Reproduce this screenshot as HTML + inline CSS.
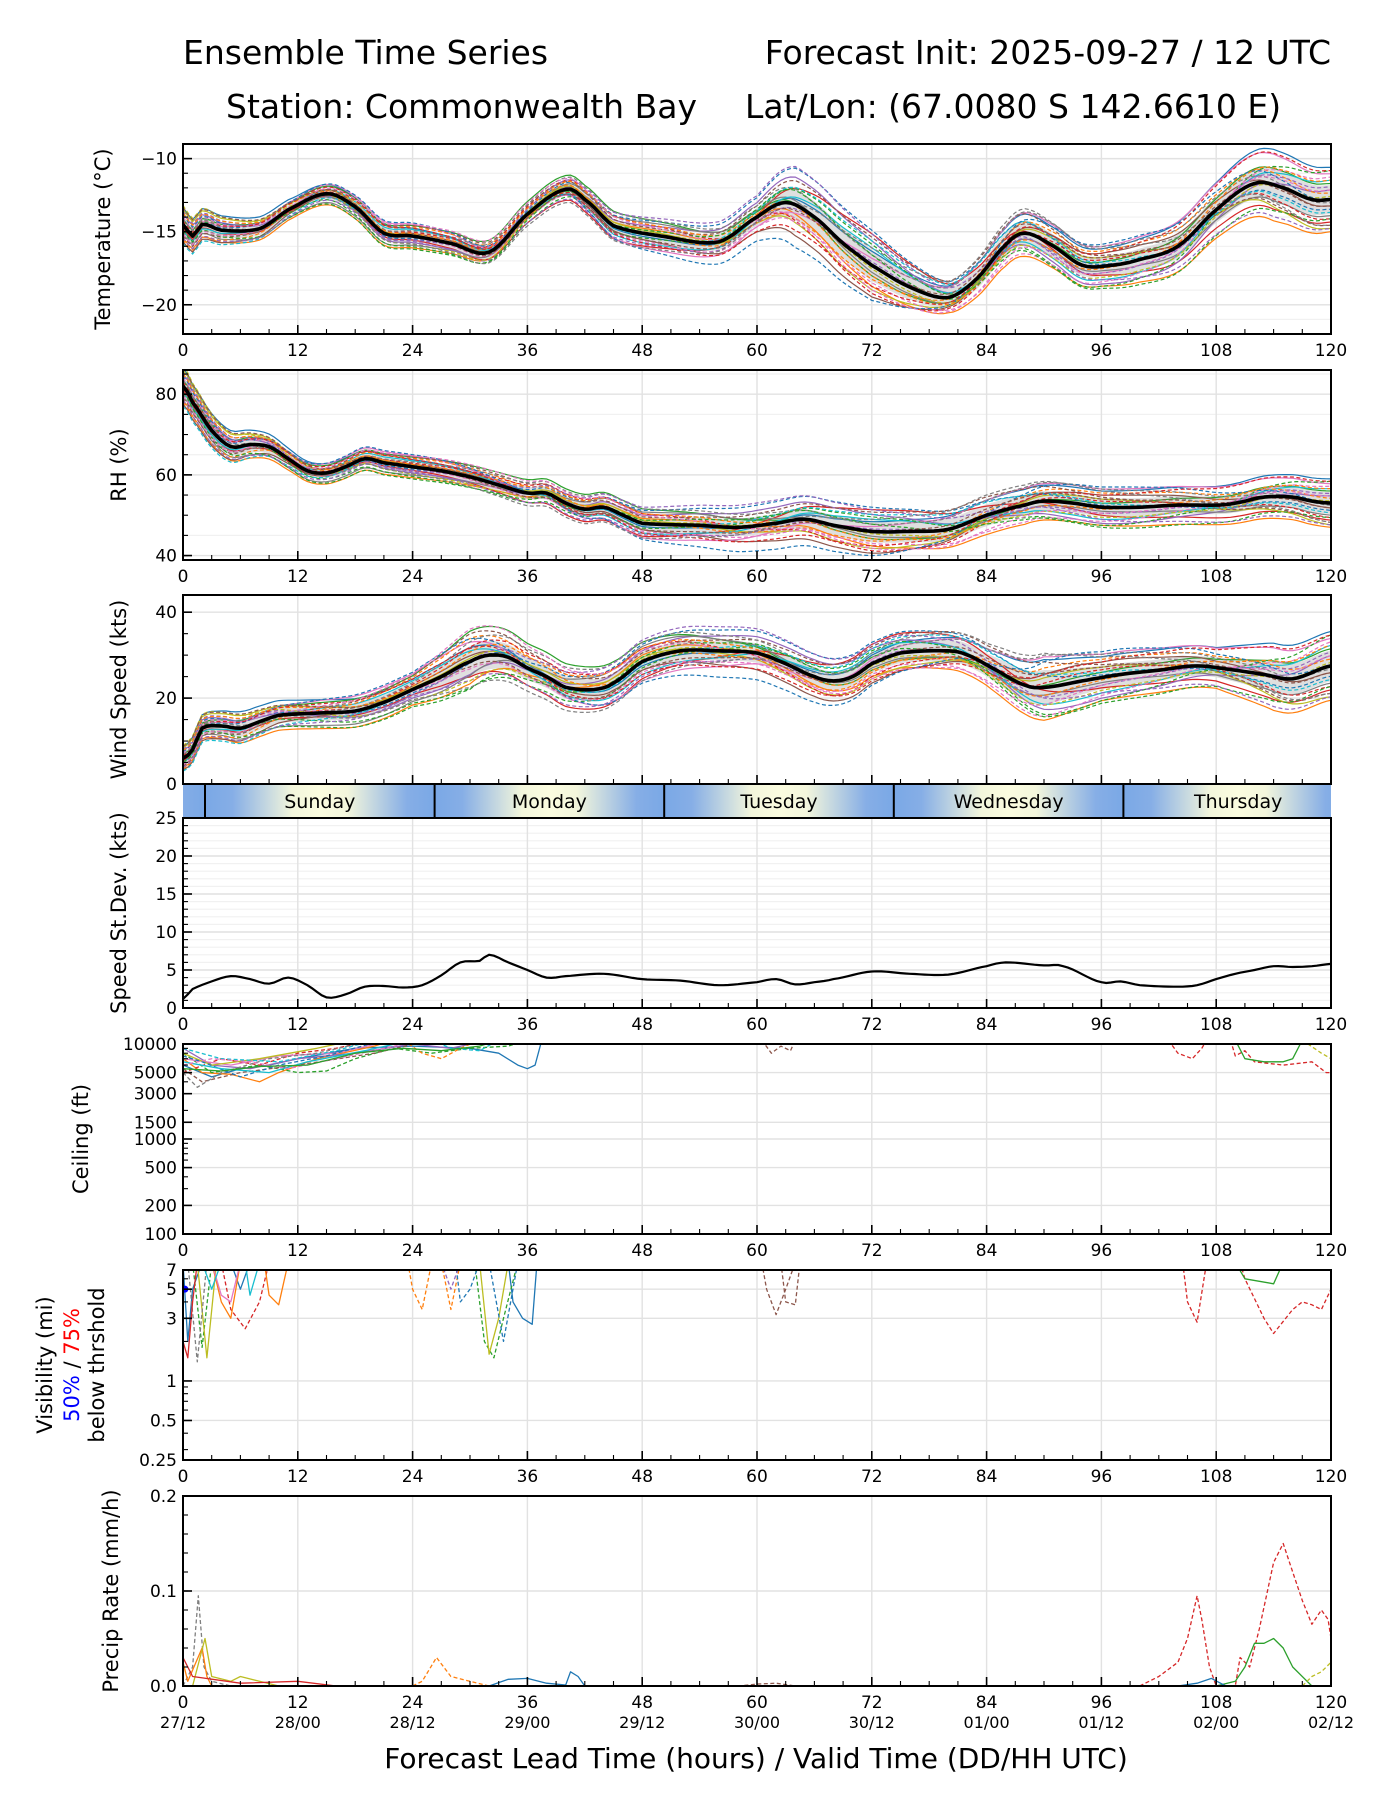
<!DOCTYPE html>
<html><head><meta charset="utf-8"><style>
html,body{margin:0;padding:0;background:#fff;}
svg{display:block;font-family:"DejaVu Sans","Liberation Sans",sans-serif;}
</style></head><body>
<svg id="fig" width="1400" height="1800" viewBox="0 0 1400 1800" xmlns="http://www.w3.org/2000/svg">
<defs>
<linearGradient id="dayg" x1="0" x2="1" y1="0" y2="0">
<stop offset="0" stop-color="#7aa8e6"/><stop offset="0.12" stop-color="#86aee6"/><stop offset="0.38" stop-color="#f3f6dc"/><stop offset="0.5" stop-color="#fbfcdf"/><stop offset="0.62" stop-color="#f3f6dc"/><stop offset="0.88" stop-color="#86aee6"/><stop offset="1" stop-color="#7aa8e6"/>
</linearGradient>
</defs>
<text x="183" y="64" font-size="33">Ensemble Time Series</text>
<text x="1331" y="64" font-size="33" text-anchor="end">Forecast Init: 2025-09-27 / 12 UTC</text>
<text x="226" y="118" font-size="33">Station: Commonwealth Bay</text>
<text x="745" y="118" font-size="33">Lat/Lon: (67.0080 S 142.6610 E)</text>
<g id="root"></g>
</svg>
<script>
// ---------- DATA ----------
const tempHours=[0,1,2,4,8,11,15,18,21,24,28,32,36,40,42,45,50,56,60,63,66,69,72,76,80,83,86,88,91,94,97,100,104,108,112,115,118,120];
const tempMean=[-14.5,-15.3,-14.5,-14.9,-14.8,-13.5,-12.4,-13.3,-15.1,-15.3,-15.8,-16.4,-13.8,-12.1,-12.8,-14.6,-15.3,-15.7,-14.0,-13.0,-14.0,-15.8,-17.3,-18.8,-19.5,-18.2,-15.9,-15.1,-16.0,-17.3,-17.3,-16.9,-16.0,-13.5,-11.7,-12.0,-12.8,-12.8];
const tempSpreadHours=[0,12,24,36,48,60,64,72,80,88,96,108,114,120];
const tempSpread=[1.3,0.8,0.9,0.9,1.1,1.3,2.4,2.4,1.4,1.9,1.5,2.0,2.5,2.2];

const rhHours=[0,1,3,5,7,9,11,13,15,17,19,21,24,27,30,33,36,38,40,42,44,46,48,54,58,62,65,68,72,76,80,84,88,90,93,96,100,104,108,110,113,116,118,120];
const rhMean=[82,78,71,67,67.5,67,64,61,60.5,62,64,63,62,61,59.5,57.5,55.5,55.5,53,51.5,52,50,48,47.5,47,48,49,47.5,46,46,46.5,50,52.5,53.5,53,52,52,52.5,52.5,53,54.5,54.5,53.5,53];
const rhSpreadHours=[0,6,12,24,36,48,60,72,84,96,108,120];
const rhSpread=[5,4.5,3,3,3.5,4,5,6,6,5,5,6];

const windHours=[0,1,2,4,6,8,10,14,18,21,24,27,30,32,34,36,38,40,43,45,48,52,56,60,63,66,68,70,72,75,80,82,85,88,90,94,98,102,106,110,113,116,120];
const windMean=[6,8,13,13.5,13,14.5,16,16.5,17,19,22,25,28.5,30,29.5,27,25,22.5,22,23.5,28.5,31,31,30.5,28,25,24,25,28,30.5,31,30,26.5,23,22.5,24,25.5,26.5,27.5,26.5,25.5,24.5,27.5];
const windSpreadHours=[0,6,12,24,30,36,48,60,72,84,90,96,108,114,120];
const windSpread=[3,4.5,4,4,8,6,5,5,5,6,9,6,5,8,8];

const sdHours=[0,1,3,5,7,9,11,13,15,17,19,21,23,25,27,29,31,32,34,36,38,40,44,48,52,56,60,62,64,66,68,72,76,80,84,86,90,92,96,98,100,104,106,108,110,112,114,116,118,120];
const sdValues=[1.2,2.5,3.5,4.2,3.8,3.2,4,3,1.4,1.8,2.8,2.9,2.7,3.0,4.3,6,6.2,7,6,5,4,4.2,4.5,3.8,3.6,3.0,3.4,3.8,3.1,3.4,3.8,4.8,4.5,4.4,5.5,6,5.6,5.5,3.4,3.5,3,2.8,3,3.8,4.5,5,5.5,5.4,5.5,5.8];

// ensemble member offset coefficients at hours 0,24,48,72,96,120
const memberCoef=[
[0.9,0.6,-0.2,0.4,0.8,1.0],[-0.7,-0.9,0.3,-0.6,-0.9,-1.0],[0.3,0.8,0.9,-0.3,0.2,0.5],[-0.2,-0.3,-0.8,0.9,-0.4,-0.7],
[0.6,-0.5,0.5,0.7,-0.8,0.3],[-0.9,0.2,-0.4,-0.9,0.6,-0.2],[0.1,0.9,-0.9,0.2,0.9,0.8],[-0.5,-0.7,0.7,-0.2,-0.2,-0.5],
[0.8,0.1,0.2,-0.7,0.4,-0.9],[-0.3,0.5,-0.6,0.5,-0.6,0.6],[0.5,-0.2,0.8,1.0,0.1,-0.3],[-0.8,0.7,0.0,-0.4,0.7,0.2],
[0.2,-0.8,-0.3,0.6,-0.9,0.9],[-0.1,0.3,0.6,-0.8,0.3,-0.6],[0.7,-0.4,-0.7,0.1,-0.3,0.4],[-0.6,0.8,0.4,0.8,0.5,-0.8],
[0.4,-0.1,-0.5,-0.5,-0.7,0.7],[-0.4,0.4,0.9,0.3,0.9,-0.1],[1.0,-0.6,0.1,-0.1,-0.5,0.1],[-1.0,0.0,-0.1,0.7,0.2,-0.4],
[0.0,1.0,-1.0,-1.0,1.0,0.0],[0.6,0.2,0.6,-0.3,-0.1,0.6],[-0.3,-1.0,0.2,0.3,-1.0,-0.6],[0.2,0.6,-0.6,-0.6,0.6,0.9],
[-0.7,-0.3,1.0,0.9,-0.6,-0.9],[0.9,0.0,-0.4,0.0,0.4,-0.2],[-0.5,0.9,0.5,-0.7,-0.3,0.3],[0.3,-0.6,-0.9,0.5,0.8,-0.8]
];
const memberColors=["#1f77b4","#ff7f0e","#2ca02c","#d62728","#9467bd","#8c564b","#e377c2","#7f7f7f","#bcbd22","#17becf"];

const ceilMembers=[
{c:0,d:0,p:[[0,6000],[3,4500],[6,5500],[9,6000],[12,7000],[18,9000],[24,9500],[30,9000],[33,8000],[35,6000],[36,5500],[36.8,6000],[37.5,11000]]},
{c:1,d:0,p:[[0,7000],[2,5000],[5,4800],[8,4000],[10,5000],[14,7000],[20,9500],[22,11000]]},
{c:2,d:1,p:[[0,8000],[3,5000],[8,6000],[12,5000],[15,5200],[18,7000],[22,9000],[26,8000],[30,9000],[34,9500],[36,11000]]},
{c:3,d:1,p:[[0,5000],[4,7000],[8,6000],[12,8000],[16,9000],[20,11000]]},
{c:3,d:1,p:[[103,11000],[104,8000],[105.5,7000],[106.5,9000],[107,11000]]},
{c:3,d:1,p:[[109.5,11000],[110,7500],[111,8500],[112,6500],[115,6000],[118,6500],[119.5,5000],[120,5000]]},
{c:4,d:0,p:[[0,9000],[3,6000],[7,5500],[12,7000],[18,8000],[24,10000],[28,9000],[32,11000]]},
{c:5,d:1,p:[[0,5500],[2,4000],[6,5000],[12,6000],[20,8000],[26,11000]]},
{c:5,d:1,p:[[60.5,11000],[61.5,8000],[62.5,9500],[63.5,8500],[64,11000]]},
{c:6,d:0,p:[[0,7000],[5,6000],[10,7500],[16,8000],[22,11000]]},
{c:7,d:1,p:[[0,5000],[1.5,3500],[4,5000],[9,7000],[14,8000],[20,11000]]},
{c:8,d:0,p:[[0,8000],[3,6000],[8,7000],[14,9000],[18,11000]]},
{c:9,d:1,p:[[0,9000],[4,7000],[10,6500],[16,8500],[20,11000]]},
{c:9,d:1,p:[[26,11000],[28,9000],[31,8500],[33,11000]]},
{c:1,d:1,p:[[23,11000],[25,8000],[27,7000],[29,9000],[31,11000]]},
{c:2,d:0,p:[[110,11000],[111,7000],[113,6500],[115,6500],[116,7000],[117,11000]]},
{c:8,d:1,p:[[117,11000],[119,8000],[120,7000]]},
{c:0,d:1,p:[[0,7500],[2,6500],[6,4500],[10,6000],[15,7500],[21,11000]]},
{c:9,d:0,p:[[0,6500],[4,5500],[9,5000],[13,6500],[19,8500],[24,11000]]},
{c:6,d:1,p:[[0,6000],[3,7000],[7,6500],[11,5500],[16,7000],[21,9000],[25,11000]]},
{c:2,d:0,p:[[0,5500],[4,5200],[8,5800],[13,6000],[18,8000],[23,9000],[27,8500],[31,9500],[33,11000]]}
];
const visMembers=[
{c:0,d:0,p:[[0,8],[0.5,2],[1,5],[2,8]]},{c:0,d:0,p:[[5,8],[6,5],[7,8]]},{c:0,d:0,p:[[34,8],[34.5,4],[35.5,3],[36.5,2.7],[37,8]]},
{c:2,d:1,p:[[1,8],[2,1.8],[3,8]]},{c:2,d:1,p:[[30.5,8],[31.5,2],[32.5,1.5],[33.5,3],[35,8]]},
{c:8,d:0,p:[[1.5,8],[2.5,1.5],[3.5,8]]},{c:8,d:0,p:[[31,8],[32,1.6],[33,3],[34,8]]},
{c:7,d:1,p:[[0.5,8],[1.5,1.4],[2.5,8]]},
{c:3,d:1,p:[[4,8],[5,3.5],[6.5,2.5],[8,4],[9,8]]},{c:3,d:1,p:[[104.5,8],[105,4],[106,2.8],[107,8]]},
{c:3,d:1,p:[[110.5,8],[111,6],[113,3],[114,2.3],[116,3.5],[117,4],[118,3.8],[119,3.5],[120,5]]},
{c:3,d:0,p:[[0,2],[0.5,1.5],[1,4],[1.5,8]]},
{c:1,d:0,p:[[8.5,8],[9,4.5],[10,3.8],[11,8]]},{c:1,d:0,p:[[3,8],[4,4],[5,3],[6,8]]},
{c:1,d:1,p:[[23.5,8],[24,5],[25,3.5],[26,8]]},{c:1,d:1,p:[[27,8],[28,3.5],[29,8]]},
{c:0,d:1,p:[[28.5,8],[29,4],[30,5],[31,8]]},{c:0,d:1,p:[[32,8],[33.5,2],[35,8]]},
{c:4,d:1,p:[[27,8],[28,5],[29,8]]},
{c:5,d:1,p:[[60.5,8],[61,5],[62,3.2],[63,5],[64,8]]},{c:5,d:1,p:[[62.5,8],[63,4],[64,3.8],[64.5,8]]},
{c:2,d:0,p:[[110,8],[111,6],[114,5.5],[115,8]]},
{c:6,d:0,p:[[3,8],[4,4.5],[5,4],[6,8]]},{c:9,d:0,p:[[2,8],[3,5],[4,8]]},{c:9,d:0,p:[[6.5,8],[7,4.5],[8,8]]}
];
const precipMembers=[
{c:7,d:1,p:[[0,0],[1,0.02],[1.6,0.095],[2.2,0.02],[3,0.005],[5,0]]},
{c:1,d:1,p:[[24,0],[25,0.005],[26.5,0.03],[28,0.01],[30,0.005],[32,0]]},
{c:0,d:0,p:[[32,0],[34,0.007],[36,0.008],[38,0.003],[40,0.001],[40.5,0.015],[41.3,0.01],[42,0]]},
{c:3,d:1,p:[[100,0],[102,0.01],[104,0.025],[105,0.05],[106,0.095],[106.5,0.07],[107.3,0.02],[108,0],[110,0],[110.5,0.03],[111.5,0.02],[112.5,0.06],[114,0.13],[115,0.15],[116,0.12],[117,0.09],[118,0.065],[119,0.08],[119.7,0.07],[120,0.05]]},
{c:2,d:0,p:[[108,0],[110,0.005],[111,0.02],[112,0.045],[113,0.045],[114,0.05],[115,0.04],[116,0.02],[117.5,0.005],[118,0]]},
{c:8,d:1,p:[[117,0],[118,0.01],[119,0.015],[120,0.025]]},
{c:1,d:0,p:[[0,0.025],[0.5,0.005],[2,0.04],[2.5,0.01],[3,0]]},
{c:8,d:0,p:[[1,0],[2.3,0.05],[3,0.01],[5,0.005],[6,0.01],[8,0.005],[10,0]]},
{c:3,d:0,p:[[0,0.03],[1,0.01],[6,0.003],[12,0.005],[16,0]]},
{c:5,d:1,p:[[58,0],[60,0.002],[62,0.003],[64,0]]},
{c:0,d:0,p:[[104,0],[106,0.003],[107.5,0.008],[109,0]]}
];
const xTicks=[0,12,24,36,48,60,72,84,96,108,120];
const dateLabels=["27/12","28/00","28/12","29/00","29/12","30/00","30/12","01/00","01/12","02/00","02/12"];
const dayNames=["Sunday","Monday","Tuesday","Wednesday","Thursday"];

// ---------- LAYOUT ----------
const NS="http://www.w3.org/2000/svg";
const root=document.getElementById('root');
const X0=183,X1=1331;
const xs=h=>X0+h*(X1-X0)/120;
function el(tag,attrs,parent,txt){const e=document.createElementNS(NS,tag);for(const k in attrs)e.setAttribute(k,attrs[k]);if(txt!==undefined)e.textContent=txt;(parent||root).appendChild(e);return e;}
function interp(hs,vs,h){if(h<=hs[0])return vs[0];for(let i=1;i<hs.length;i++){if(h<=hs[i]){const t=(h-hs[i-1])/(hs[i]-hs[i-1]);return vs[i-1]+t*(vs[i]-vs[i-1]);}}return vs[vs.length-1];}
function smooth(hs,vs,h){
 let i=1;while(i<hs.length-1&&h>hs[i])i++;
 const p0=vs[Math.max(i-2,0)],p1=vs[i-1],p2=vs[i],p3=vs[Math.min(i+1,vs.length-1)];
 const t=Math.max(0,Math.min(1,(h-hs[i-1])/(hs[i]-hs[i-1])));
 const t2=t*t,t3=t2*t;
 return 0.5*((2*p1)+(-p0+p2)*t+(2*p0-5*p1+4*p2-p3)*t2+(-p0+3*p1-3*p2+p3)*t3);}
const coefHours=[0,24,48,72,96,120];

function panel(cfg){
 const {name,top,bot,ymin,ymax,log}=cfg;
 const ys=v=>{ if(log){const a=Math.log10(ymin),b=Math.log10(ymax);return bot-(Math.log10(v)-a)/(b-a)*(bot-top);} return bot-(v-ymin)/(ymax-ymin)*(bot-top);};
 const g=el('g',{});
 
 
 const clipId='clip-'+name;
 const cp=el('clipPath',{id:clipId},g);el('rect',{x:X0,y:top,width:X1-X0,height:bot-top},cp);
 (cfg.minorGrid||[]).forEach(v=>el('line',{x1:X0,x2:X1,y1:ys(v),y2:ys(v),stroke:'#f1f1f1','stroke-width':1.2},g));
 xTicks.forEach(h=>{const l=el('line',{x1:xs(h),x2:xs(h),y1:top,y2:bot,stroke:'#e2e2e2','stroke-width':1.4},g);});
 cfg.yTicks.forEach(v=>el('line',{x1:X0,x2:X1,y1:ys(v),y2:ys(v),stroke:'#e2e2e2','stroke-width':1.4},g));
 const plot=el('g',{'clip-path':'url(#'+clipId+')'},g);
 
 
 cfg.draw&&cfg.draw(plot,ys);
 el('rect',{x:X0,y:top,width:X1-X0,height:bot-top,fill:'none',stroke:'#000','stroke-width':2},g);
 for(let h=0;h<=120;h+=3){const major=h%12===0;el('line',{x1:xs(h),x2:xs(h),y1:bot,y2:bot-(major?9:5),stroke:'#000','stroke-width':major?1.6:1.1},g);}
 if(!cfg.noXLabels) xTicks.forEach(h=>{const t=el('text',{x:xs(h),y:bot+22,'font-size':17,'text-anchor':'middle'},g,String(h));});
 (cfg.minorTicks||[]).forEach(v=>el('line',{x1:X0,x2:X0+5,y1:ys(v),y2:ys(v),stroke:'#000','stroke-width':1.1},g));
 cfg.yTicks.forEach((v,i)=>{el('line',{x1:X0,x2:X0+9,y1:ys(v),y2:ys(v),stroke:'#000','stroke-width':1.6},g);
  const t=el('text',{x:X0-6,y:ys(v)+6,'font-size':17,'text-anchor':'end'},g,cfg.yLabels[i]);});
 if(cfg.title){const cy=(top+bot)/2;const t=el('text',{x:cfg.tx,y:cy,'font-size':21,'text-anchor':'middle',transform:'rotate(-90 '+cfg.tx+' '+cy+')'},g,cfg.title);
  }
 return {ys,g};
}
function pathFrom(pts){return pts.map((p,i)=>(i?'L':'M')+p[0].toFixed(1)+','+p[1].toFixed(1)).join('');}
function ensemble(plot,ys,hours,mean,sh,sp,lowClip){
 const meanAt=h=>smooth(hours,mean,h);
 const up=[],dn=[];
 for(let h=0;h<=120;h+=0.5){const m=meanAt(h),s=interp(sh,sp,h)*0.45;up.push([xs(h),ys(m+s)]);dn.push([xs(h),ys(Math.max(lowClip,m-s))]);}
 const band=el('path',{d:pathFrom(up.concat(dn.reverse()))+'Z',fill:'#d9d9d9',opacity:0.85},plot);
 
 memberCoef.forEach((cf,i)=>{const pts=[];
  for(let h=0;h<=120;h+=0.5){const k=smooth(coefHours,cf,h);pts.push([xs(h),ys(Math.max(lowClip,meanAt(h)+k*interp(sh,sp,h)))]);}
  const p=el('path',{d:pathFrom(pts),fill:'none',stroke:memberColors[i%10],'stroke-width':1.2},plot);
  if(i>=10)p.setAttribute('stroke-dasharray','4,2.5');
  });
 const pts=[];for(let h=0;h<=120;h+=0.5)pts.push([xs(h),ys(meanAt(h))]);
 const m=el('path',{d:pathFrom(pts),fill:'none',stroke:'#000','stroke-width':3.6,'stroke-linejoin':'round'},plot);
 
}
function members(plot,ys,list){list.forEach(mb=>{const pts=mb.p.map(q=>[xs(q[0]),ys(q[1])]);
 const p=el('path',{d:pathFrom(pts),fill:'none',stroke:memberColors[mb.c],'stroke-width':1.3,'stroke-linejoin':'round'},plot);
 if(mb.d)p.setAttribute('stroke-dasharray','4,2.5');
 });}

const rng=(a,b,s)=>{const r=[];for(let v=a;v<=b+1e-9;v+=s)r.push(+v.toFixed(4));return r;};

panel({name:'temperature',top:144,bot:334,ymin:-22,ymax:-9,yTicks:[-20,-15,-10],yLabels:['\u221220','\u221215','\u221210'],
 minorTicks:rng(-22,-9,1),minorGrid:rng(-22,-9,1),title:'Temperature (\u00b0C)',tx:110,
 draw:(p,ys)=>ensemble(p,ys,tempHours,tempMean,tempSpreadHours,tempSpread,-99)});
panel({name:'rh',top:370,bot:560,ymin:38.9,ymax:86,yTicks:[40,60,80],yLabels:['40','60','80'],
 minorTicks:rng(40,85,5),minorGrid:rng(45,85,10),title:'RH (%)',tx:126,
 draw:(p,ys)=>ensemble(p,ys,rhHours,rhMean,rhSpreadHours,rhSpread,0)});
panel({name:'wind-speed',top:595,bot:784,ymin:0,ymax:44,yTicks:[0,20,40],yLabels:['0','20','40'],noXLabels:true,
 minorTicks:rng(0,40,5),title:'Wind Speed (kts)',tx:126,
 draw:(p,ys)=>ensemble(p,ys,windHours,windMean,windSpreadHours,windSpread,0)});
(function(){const g=el('g',{});
 const cp=el('clipPath',{id:'clip-day'},g);el('rect',{x:X0,y:785,width:X1-X0,height:32},cp);
 const inner=el('g',{'clip-path':'url(#clip-day)'},g);
 for(let d=-1;d<5;d++){const a=xs(2.3+24*d),b=xs(2.3+24*(d+1));el('rect',{x:a,y:785,width:b-a,height:32,fill:'url(#dayg)'},inner);
  if(d>=0){el('line',{x1:a,x2:a,y1:785,y2:817,stroke:'#000','stroke-width':2},inner);
   const t=el('text',{x:(a+b)/2,y:808,'font-size':19,'text-anchor':'middle'},inner,dayNames[d]);}}
})();
panel({name:'speed-stdev',top:818,bot:1008,ymin:0,ymax:25,yTicks:[0,5,10,15,20,25],yLabels:['0','5','10','15','20','25'],
 minorTicks:rng(0,25,1),minorGrid:rng(0,25,1),title:'Speed St.Dev. (kts)',tx:126,
 draw:(p,ys)=>{const pts=[];for(let h=0;h<=120;h+=0.5)pts.push([xs(h),ys(smooth(sdHours,sdValues,h))]);
  const l=el('path',{d:pathFrom(pts),fill:'none',stroke:'#000','stroke-width':2.2},p);}});
panel({name:'ceiling',top:1044,bot:1234,ymin:100,ymax:10000,log:true,yTicks:[100,200,500,1000,1500,3000,5000,10000],yLabels:['100','200','500','1000','1500','3000','5000','10000'],
 minorTicks:[300,400,600,700,800,900,2000,4000,6000,7000,8000,9000],title:'Ceiling (ft)',tx:88,
 draw:(p,ys)=>members(p,ys,ceilMembers)});
panel({name:'visibility',top:1270,bot:1460,ymin:0.25,ymax:7,log:true,yTicks:[0.25,0.5,1,3,5,7],yLabels:['0.25','0.5','1','3','5','7'],
 minorTicks:[0.3,0.4,0.6,0.7,0.8,0.9,2,4,6],
 draw:(p,ys)=>{members(p,ys,visMembers);const d=el('circle',{cx:xs(0.2),cy:ys(5),r:3.5,fill:'#0000ff'},p);}});
(function(){const cy=1365;
 const a=el('text',{x:52,y:cy,'font-size':21,'text-anchor':'middle',transform:'rotate(-90 52 '+cy+')'},root,'Visibility (mi)');
 const b=el('text',{x:79,y:cy,'font-size':21,'text-anchor':'middle',transform:'rotate(-90 79 '+cy+')'});
 el('tspan',{fill:'#0000ff'},b,'50%');el('tspan',{},b,' / ');el('tspan',{fill:'#ff0000'},b,'75%');
 const c=el('text',{x:104,y:cy,'font-size':21,'text-anchor':'middle',transform:'rotate(-90 104 '+cy+')'},root,'below thrshold');})();
panel({name:'precip-rate',top:1496,bot:1686,ymin:0,ymax:0.2,yTicks:[0,0.1,0.2],yLabels:['0.0','0.1','0.2'],
 minorTicks:rng(0,0.2,0.02),title:'Precip Rate (mm/h)',tx:118,
 draw:(p,ys)=>members(p,ys,precipMembers)});
xTicks.forEach((h,i)=>{const t=el('text',{x:xs(h),y:1728,'font-size':16,'text-anchor':'middle'},root,dateLabels[i]);});
const xt=el('text',{x:756,y:1768,'font-size':28,'text-anchor':'middle'},root,'Forecast Lead Time (hours) / Valid Time (DD/HH UTC)');


</script>
</body></html>
